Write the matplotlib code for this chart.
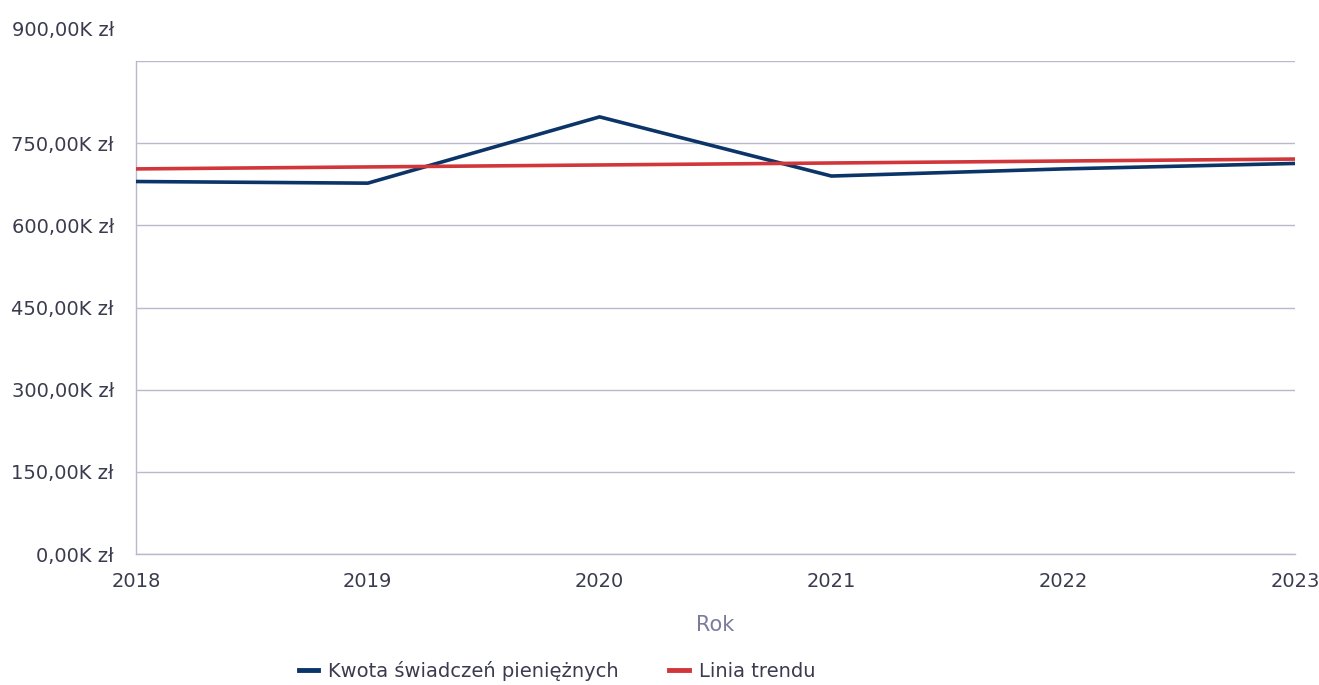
import matplotlib
matplotlib.use('Agg')
import matplotlib.pyplot as plt
import matplotlib.transforms as mtransforms
from matplotlib.ticker import FuncFormatter

matplotlib.rc('font', family='DejaVu Sans', size=14)

## Data (thousands of zł)
years = [2018, 2019, 2020, 2021, 2022, 2023]
amounts = [680, 677, 798, 690, 703, 713]
trend_years = [2018, 2023]
trend_vals = [703, 721]

y_ticks = [0, 150, 300, 450, 600, 750, 900]

text_col = '#3b3b4f'
grid_col = '#b9b9cc'
blue = '#0b3468'
red = '#d1363a'

fig = plt.figure(figsize=(13.19, 6.85), dpi=100)
ax = fig.add_axes([136/1319, 1 - 554/685, (1295 - 136)/1319, (554 - 61)/685])

ax.plot(years, amounts, color=blue, lw=2.6, solid_joinstyle='miter',
        label='Kwota świadczeń pieniężnych', zorder=3)
ax.plot(trend_years, trend_vals, color=red, lw=2.6,
        label='Linia trendu', zorder=3)

ax.set_xlim(2018, 2023)
ax.set_ylim(0, 900)
ax.set_xticks(years)
ax.set_yticks(y_ticks)
ax.yaxis.set_major_formatter(FuncFormatter(lambda v, p: f'{v:.2f}'.replace('.', ',') + 'K zł'))

ax.grid(axis='y', color=grid_col, lw=1)
ax.set_axisbelow(True)
for s in ['top', 'right']:
    ax.spines[s].set_visible(False)
for s in ['left', 'bottom']:
    ax.spines[s].set_color(grid_col)
    ax.spines[s].set_linewidth(1)

ax.tick_params(length=0, colors=text_col, labelsize=14)
ax.tick_params(axis='y', pad=16)
ax.tick_params(axis='x', pad=13)

# top label sits above the frame
top_lbl = ax.get_yticklabels()[-1]
top_lbl.set_transform(top_lbl.get_transform() +
                      mtransforms.ScaledTranslation(0, 0.33, fig.dpi_scale_trans))

ax.set_xlabel('Rok', color='#7b7ba0', fontsize=15, labelpad=17)

leg = fig.legend(loc='center', bbox_to_anchor=(557/1319, 1 - 671/685), ncol=2,
                 frameon=False, handlelength=1.0, handletextpad=0.5,
                 columnspacing=2.6, fontsize=14)
for t in leg.get_texts():
    t.set_color(text_col)
for h in leg.get_lines():
    h.set_linewidth(3.5)

fig.savefig('out.png', dpi=100)
